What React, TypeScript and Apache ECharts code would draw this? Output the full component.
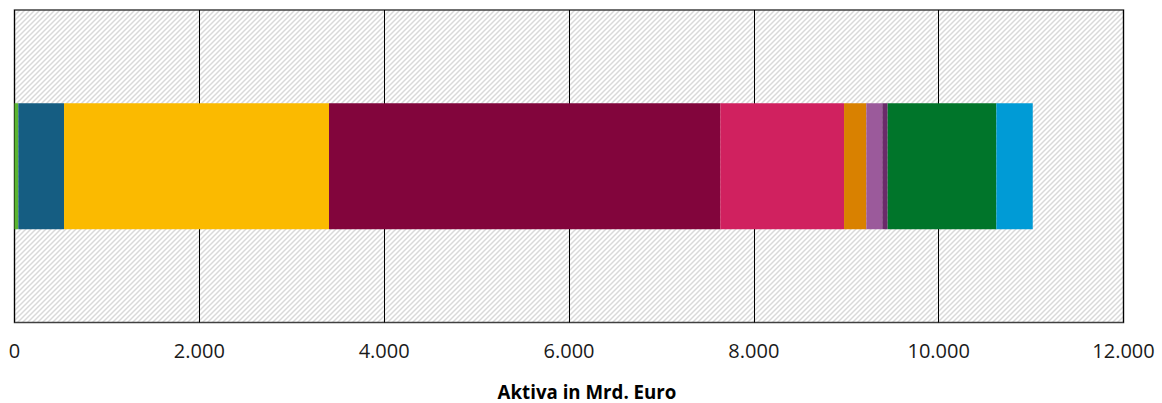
import React, { useEffect, useRef } from "react";
import * as echarts from "echarts";

// One stacked horizontal bar of balance-sheet assets (Mrd. Euro)
const categories = ["Aktiva"];
const segmentNames = [
  "Position 1",
  "Position 2",
  "Position 3",
  "Position 4",
  "Position 5",
  "Position 6",
  "Position 7",
  "Position 8",
  "Position 9",
  "Position 10",
];
const segmentValues = [41, 495, 2867, 4234, 1339, 241, 173, 58, 1176, 394];
const segmentColors = [
  "#5bb531",
  "#155d82",
  "#fbba00",
  "#82053c",
  "#d0215f",
  "#d98100",
  "#9b5a9b",
  "#6a2a6a",
  "#00752a",
  "#009bd6",
];
const xTicks = [0, 2000, 4000, 6000, 8000, 10000, 12000];
const axisTitle = "Aktiva in Mrd. Euro";

const formatThousands = (v: number) =>
  String(Math.round(v)).replace(/\B(?=(\d{3})+(?!\d))/g, ".");

function makeHatch(): HTMLCanvasElement {
  const n = 5;
  const c = document.createElement("canvas");
  c.width = n;
  c.height = n;
  const ctx = c.getContext("2d")!;
  ctx.fillStyle = "#ffffff";
  ctx.fillRect(0, 0, n, n);
  ctx.strokeStyle = "#d9d9d9";
  ctx.lineWidth = 1.5;
  ctx.beginPath();
  ctx.moveTo(-1, n + 1);
  ctx.lineTo(n + 1, -1);
  ctx.moveTo(-1, 1);
  ctx.lineTo(1, -1);
  ctx.moveTo(n - 1, n + 1);
  ctx.lineTo(n + 1, n - 1);
  ctx.stroke();
  return c;
}

export default function App() {
  const ref = useRef<HTMLDivElement>(null);

  useEffect(() => {
    document.body.style.margin = "0";
    const chart = echarts.init(ref.current!, undefined, { renderer: "svg" });
    const hatch = makeHatch();

    chart.setOption({
      animation: false,
      backgroundColor: "#ffffff",
      grid: {
        left: 14.5,
        right: 38.5,
        top: 10,
        bottom: 80.5,
        show: true,
        backgroundColor: { image: hatch, repeat: "repeat" },
        borderColor: "#404040",
        borderWidth: 1.5,
        z: 0,
      },
      xAxis: {
        type: "value",
        min: xTicks[0],
        max: xTicks[xTicks.length - 1],
        interval: xTicks[1] - xTicks[0],
        axisLine: { show: false },
        axisTick: { show: false },
        splitLine: { show: true, lineStyle: { color: "#000000", width: 1 } },
        axisLabel: {
          margin: 18,
          color: "#1a1a1a",
          fontFamily: "Open Sans",
          fontSize: 20,
          formatter: (v: number) => formatThousands(v),
        },
      },
      yAxis: {
        type: "category",
        data: categories,
        show: false,
      },
      graphic: [
        {
          type: "text",
          x: 587,
          y: 391,
          style: {
            text: axisTitle,
            fontFamily: "Open Sans",
            fontWeight: "bold",
            fontSize: 18.7,
            fill: "#000000",
            align: "center",
            verticalAlign: "middle",
          },
        },
      ],
      series: segmentValues.map((v, i) => ({
        name: segmentNames[i],
        type: "bar",
        stack: "total",
        barWidth: 126,
        data: [v],
        itemStyle: { color: segmentColors[i] },
        z: 3,
      })),
    });

    return () => chart.dispose();
  }, []);

  return <div ref={ref} style={{ width: 1162, height: 403 }} />;
}
